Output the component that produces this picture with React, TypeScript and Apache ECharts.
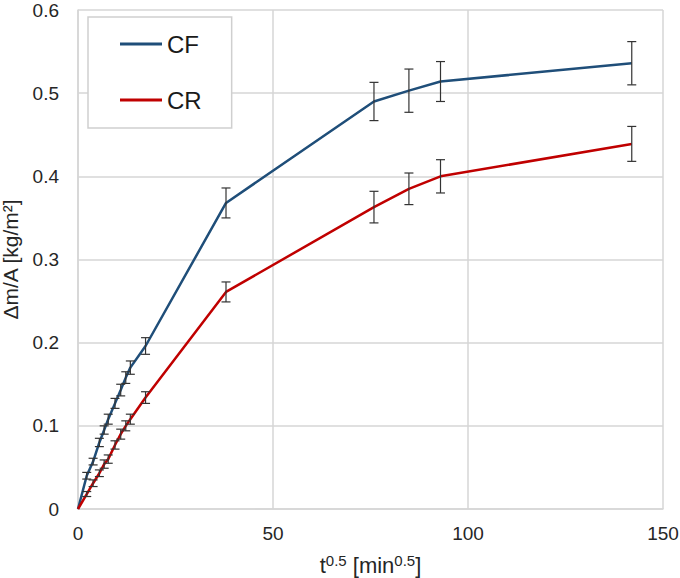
import React, { useEffect, useRef } from "react";
import * as echarts from "echarts";

const tValues = [0, 2.24, 3.87, 5.48, 6.71, 7.75, 9.49, 10.95, 12.25, 13.42, 17.32, 37.95, 75.89, 84.85, 92.95, 141.99];
const cfValues = [0, 0.040, 0.057, 0.080, 0.095, 0.108, 0.127, 0.143, 0.158, 0.170, 0.196, 0.368, 0.490, 0.503, 0.514, 0.536];
const cfErrors = [0, 0.004, 0.004, 0.005, 0.005, 0.006, 0.006, 0.007, 0.007, 0.008, 0.010, 0.018, 0.023, 0.026, 0.024, 0.026];
const crValues = [0, 0.018, 0.031, 0.043, 0.054, 0.060, 0.077, 0.090, 0.100, 0.108, 0.134, 0.261, 0.363, 0.385, 0.400, 0.439];
const crErrors = [0, 0.003, 0.004, 0.004, 0.005, 0.005, 0.005, 0.006, 0.006, 0.006, 0.007, 0.012, 0.019, 0.019, 0.020, 0.021];
const seriesNames = ["CF", "CR"];
const xTicks = { min: 0, max: 150, interval: 50 };
const yTicks = { min: 0, max: 0.6, interval: 0.1 };

const FONT = "Liberation Sans, Arial, sans-serif";

function errorSeries(name: string, values: number[], errors: number[]) {
  const data = tValues
    .map((t, i) => [t, values[i], errors[i]])
    .filter((d) => d[2] > 0);
  return {
    type: "custom",
    name: name + "-err",
    z: 5,
    silent: true,
    data,
    renderItem: (params: any, api: any) => {
      const x = api.value(0);
      const y = api.value(1);
      const e = api.value(2);
      const top = api.coord([x, y + e]);
      const bot = api.coord([x, y - e]);
      const hw = 4.5;
      const style = { stroke: "#333333", lineWidth: 1.2 };
      return {
        type: "group",
        children: [
          { type: "line", shape: { x1: top[0], y1: top[1], x2: bot[0], y2: bot[1] }, style },
          { type: "line", shape: { x1: top[0] - hw, y1: top[1], x2: top[0] + hw, y2: top[1] }, style },
          { type: "line", shape: { x1: bot[0] - hw, y1: bot[1], x2: bot[0] + hw, y2: bot[1] }, style },
        ],
      };
    },
  };
}

export default function App() {
  const ref = useRef<HTMLDivElement>(null);
  useEffect(() => {
    if (!ref.current) return;
    const chart = echarts.init(ref.current, null, { renderer: "svg" });
    const gridColor = "#d6d6d6";
    chart.setOption({
      animation: false,
      backgroundColor: "#ffffff",
      textStyle: { fontFamily: FONT },
      grid: { left: 78, right: 17, top: 10, bottom: 69, containLabel: false, outerBoundsMode: "none" },
      legend: {
        data: seriesNames,
        orient: "vertical",
        left: 88,
        top: 17,
        padding: [14, 30, 15, 32],
        itemGap: 30,
        itemWidth: 42,
        itemHeight: 3,
        icon: "rect",
        backgroundColor: "#ffffff",
        borderColor: "#cfcfcf",
        borderWidth: 1.5,
        textStyle: { fontSize: 24, color: "#1a1a1a", fontFamily: FONT, lineHeight: 26 },
      },
      xAxis: {
        type: "value",
        min: xTicks.min,
        max: xTicks.max,
        interval: xTicks.interval,
        axisLine: { show: true, lineStyle: { color: gridColor, width: 1.5 } },
        axisTick: { show: false },
        splitLine: { show: true, lineStyle: { color: gridColor, width: 1.5 } },
        axisLabel: { fontSize: 19, color: "#262626", margin: 15, fontFamily: FONT },
        name: "{n|t}{s|0.5}{n| [min}{s|0.5}{n|]}",
        nameLocation: "middle",
        nameGap: 44,
        nameTextStyle: {
          rich: {
            n: { fontSize: 22, lineHeight: 24, color: "#262626", fontFamily: FONT },
            s: { fontSize: 15, lineHeight: 24, color: "#262626", fontFamily: FONT, verticalAlign: "top" },
          },
        },
      },
      yAxis: {
        type: "value",
        min: yTicks.min,
        max: yTicks.max,
        interval: yTicks.interval,
        axisLine: { show: true, lineStyle: { color: gridColor, width: 1.5 } },
        axisTick: { show: false },
        splitLine: { show: true, lineStyle: { color: gridColor, width: 1.5 } },
        axisLabel: { fontSize: 19, color: "#262626", margin: 19, fontFamily: FONT },
        name: "Δm/A [kg/m²]",
        nameLocation: "middle",
        nameGap: 52,
        nameTextStyle: { fontSize: 21, lineHeight: 22, color: "#262626", fontFamily: FONT },
      },
      series: [
        {
          name: seriesNames[0],
          type: "line",
          data: tValues.map((t, i) => [t, cfValues[i]]),
          showSymbol: false,
          lineStyle: { color: "#1f4e79", width: 2.5 },
          itemStyle: { color: "#1f4e79" },
          z: 3,
        },
        {
          name: seriesNames[1],
          type: "line",
          data: tValues.map((t, i) => [t, crValues[i]]),
          showSymbol: false,
          lineStyle: { color: "#c00000", width: 2.5 },
          itemStyle: { color: "#c00000" },
          z: 3,
        },
        errorSeries(seriesNames[0], cfValues, cfErrors),
        errorSeries(seriesNames[1], crValues, crErrors),
      ],
    });
    return () => chart.dispose();
  }, []);
  return (
    <div
      ref={ref}
      style={{ position: "fixed", left: 0, top: 0, width: 680, height: 578, background: "#fff" }}
    />
  );
}
